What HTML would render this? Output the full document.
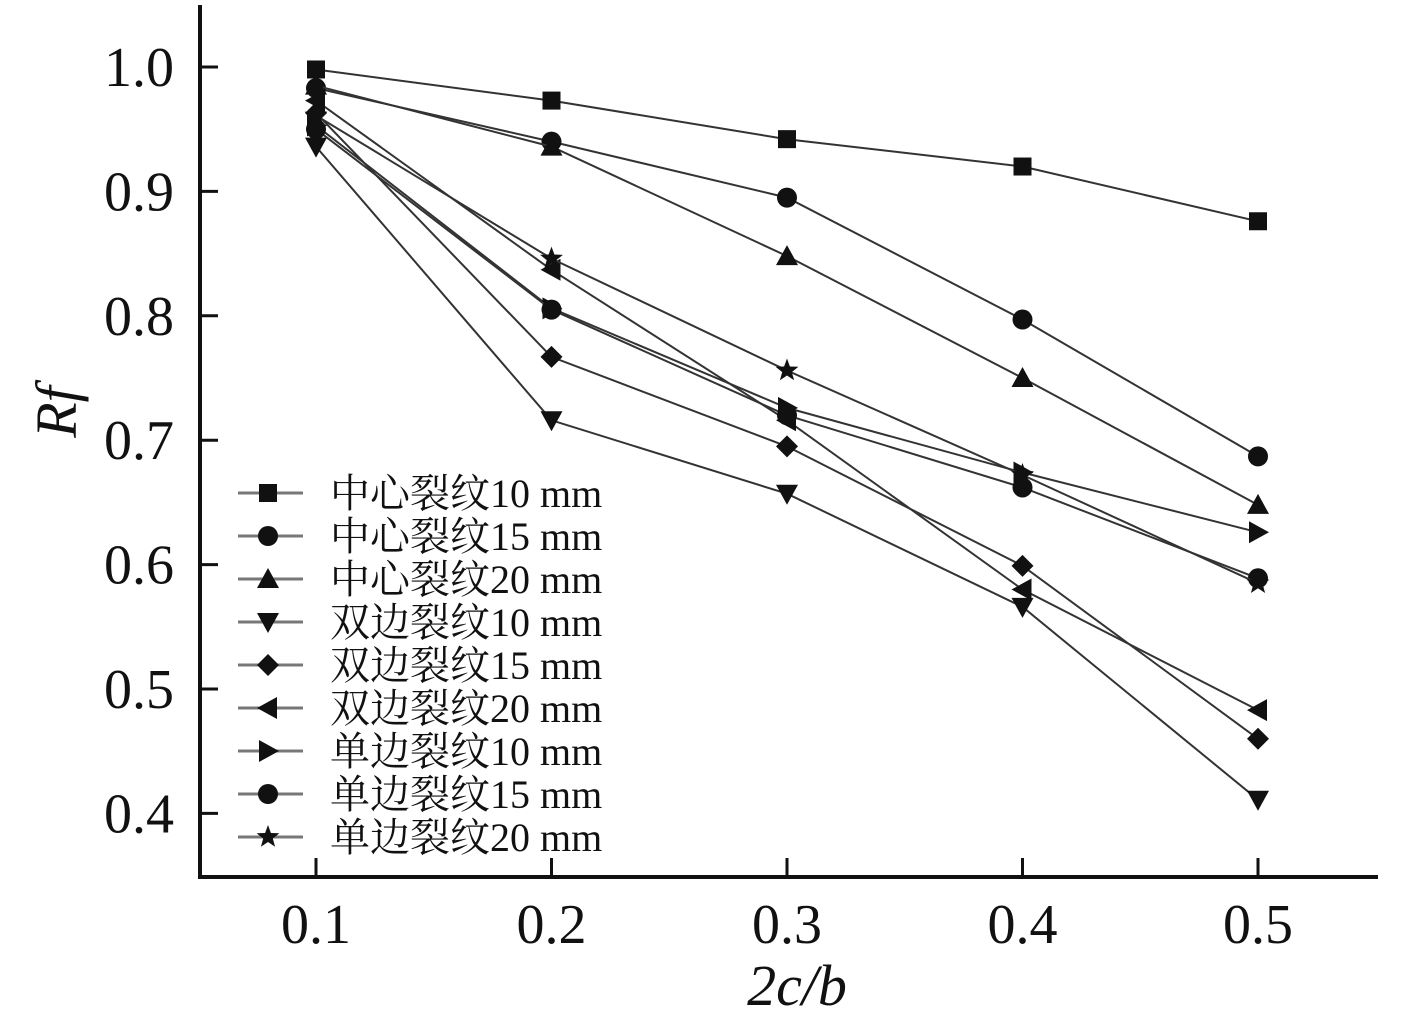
<!DOCTYPE html>
<html><head><meta charset="utf-8"><style>body{margin:0;background:#fff}svg{display:block}</style></head>
<body>
<svg id="chart" width="1417" height="1010" xmlns="http://www.w3.org/2000/svg" font-family="'Liberation Serif','Noto Serif CJK SC',serif"></svg>
<script>
const xCats = [0.1, 0.2, 0.3, 0.4, 0.5];
const yTicks = [0.4, 0.5, 0.6, 0.7, 0.8, 0.9, 1.0];
const yTickLabels = ["0.4","0.5","0.6","0.7","0.8","0.9","1.0"];
const xTickLabels = ["0.1","0.2","0.3","0.4","0.5"];
const seriesNames = ["中心裂纹10 mm","中心裂纹15 mm","中心裂纹20 mm","双边裂纹10 mm","双边裂纹15 mm","双边裂纹20 mm","单边裂纹10 mm","单边裂纹15 mm","单边裂纹20 mm"];
const seriesMarkers = ["square","circle","up","down","diamond","left","right","circle","star"];
const s1 = [0.998, 0.973, 0.942, 0.920, 0.876];
const s2 = [0.983, 0.940, 0.895, 0.797, 0.687];
const s3 = [0.985, 0.936, 0.848, 0.750, 0.648];
const s4 = [0.936, 0.716, 0.657, 0.566, 0.411];
const s5 = [0.963, 0.767, 0.695, 0.599, 0.460];
const s6 = [0.973, 0.837, 0.716, 0.580, 0.483];
const s7 = [0.953, 0.806, 0.726, 0.674, 0.626];
const s8 = [0.950, 0.805, 0.720, 0.662, 0.589];
const s9 = [0.961, 0.846, 0.756, 0.672, 0.585];
const seriesValues = [s1,s2,s3,s4,s5,s6,s7,s8,s9];

const svg = document.getElementById('chart');
const NS = 'http://www.w3.org/2000/svg';
function xs(v){ return 316 + (v - 0.1) * 2355; }
function ys(v){ return 67 + (1.0 - v) * 1244; }
function mk(tag, attrs, parent){ const e = document.createElementNS(NS, tag); for (const k in attrs) e.setAttribute(k, attrs[k]); (parent||svg).appendChild(e); return e; }

function marker(type, x, y, parent){
  const r = 9;
  let e;
  if (type === 'square') e = mk('rect', {x:x-r, y:y-r, width:2*r, height:2*r, fill:'#111'}, parent);
  else if (type === 'circle') e = mk('circle', {cx:x, cy:y, r:r+1, fill:'#111'}, parent);
  else if (type === 'up') e = mk('polygon', {points:`${x},${y-r-2} ${x-r-2},${y+r} ${x+r+2},${y+r}`, fill:'#111'}, parent);
  else if (type === 'down') e = mk('polygon', {points:`${x},${y+r+2} ${x-r-2},${y-r} ${x+r+2},${y-r}`, fill:'#111'}, parent);
  else if (type === 'left') e = mk('polygon', {points:`${x-r-2},${y} ${x+r},${y-r-2} ${x+r},${y+r+2}`, fill:'#111'}, parent);
  else if (type === 'right') e = mk('polygon', {points:`${x+r+2},${y} ${x-r},${y-r-2} ${x-r},${y+r+2}`, fill:'#111'}, parent);
  else if (type === 'diamond') e = mk('polygon', {points:`${x},${y-r-2} ${x+r+2},${y} ${x},${y+r+2} ${x-r-2},${y}`, fill:'#111'}, parent);
  else {
    let p = [];
    for (let i=0;i<10;i++){ const a = -Math.PI/2 + i*Math.PI/5; const rr = i%2 ? 5 : 12; p.push((x+rr*Math.cos(a)).toFixed(1)+','+(y+rr*Math.sin(a)).toFixed(1)); }
    e = mk('polygon', {points:p.join(' '), fill:'#111'}, parent);
  }
  return e;
}

const ax = mk('path', {d:'M200,5 L200,877 L1378,877', fill:'none', stroke:'#111', 'stroke-width':4});


yTicks.forEach((t,i)=>{
  const y = ys(t);
  const tk = mk('line', {x1:200, y1:y, x2:218, y2:y, stroke:'#111', 'stroke-width':3});
  
  
  const tl = mk('text', {x:174, y:y+19, 'text-anchor':'end', 'font-size':56, fill:'#111'});
  tl.textContent = yTickLabels[i];
  
  
});
xCats.forEach((c,i)=>{
  const x = xs(c);
  const tk = mk('line', {x1:x, y1:877, x2:x, y2:858, stroke:'#111', 'stroke-width':3});
  
  
  const tl = mk('text', {x:x, y:943, 'text-anchor':'middle', 'font-size':56, fill:'#111'});
  tl.textContent = xTickLabels[i];
  
  
});
const yt = mk('text', {x:0, y:0, transform:'translate(76,412) rotate(-90)', 'text-anchor':'middle', 'font-size':58, 'font-style':'italic', fill:'#111'});
yt.textContent = 'Rf';


const xt = mk('text', {x:797, y:1005, 'text-anchor':'middle', 'font-size':58, 'font-style':'italic', fill:'#111'});
xt.textContent = '2c/b';



seriesValues.forEach((vals, si)=>{
  const g = mk('g', {});
  
  
  const d = vals.map((v,i)=>(i?'L':'M')+xs(xCats[i]).toFixed(1)+','+ys(v).toFixed(1)).join(' ');
  mk('path', {d:d, fill:'none', stroke:'#333', 'stroke-width':2}, g);
  vals.forEach((v,i)=>{
    const m = marker(seriesMarkers[si], xs(xCats[i]), ys(v), g);
    
    
  });
});

const lg = mk('g', {});


seriesNames.forEach((n, i)=>{
  const y = 493 + i*43;
  const e = mk('g', {}, lg);
  
  
  mk('line', {x1:238, y1:y, x2:303, y2:y, stroke:'#777', 'stroke-width':3}, e);
  marker(seriesMarkers[i], 268, y, e);
  const t = mk('text', {x:330, y:y+14, 'font-size':40, fill:'#111'}, e);
  t.textContent = n;
});
</script>
</body></html>
